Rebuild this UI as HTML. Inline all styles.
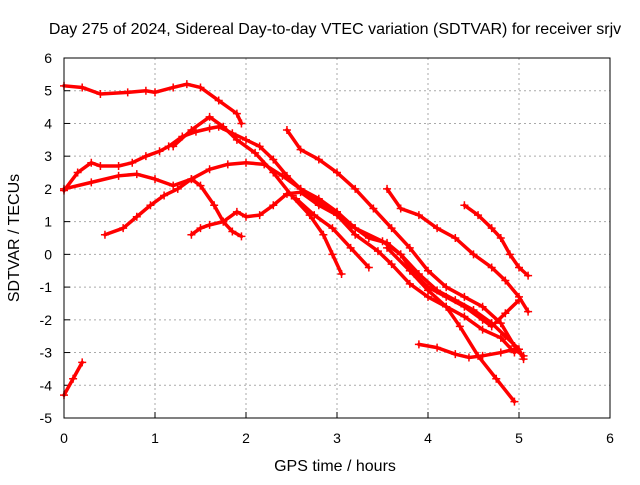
<!DOCTYPE html>
<html><head><meta charset="utf-8"><style>
body{margin:0;background:#fff}
svg text{font-family:"Liberation Sans",sans-serif;font-size:14px;fill:#000}
svg text.big{font-size:16px}
</style></head><body>
<svg id="chart" width="640" height="480">
<rect width="640" height="480" fill="#fff"/>
<text class="big" x="335" y="34" text-anchor="middle">Day 275 of 2024, Sidereal Day-to-day VTEC variation (SDTVAR) for receiver srjv</text>
<text class="big" x="335" y="471" text-anchor="middle">GPS time / hours</text>
<text class="big" transform="translate(19,238) rotate(-90)" text-anchor="middle">SDTVAR / TECUs</text>
<g id="grid"></g><g id="series"></g>
<rect x="64" y="58" width="546" height="360" fill="none" stroke="#000"/>
</svg>
<script>
const xTicks=[0,1,2,3,4,5,6];
const yTicks=[-5,-4,-3,-2,-1,0,1,2,3,4,5,6];
const s1=[[0,5.15],[0.2,5.1],[0.4,4.9],[0.7,4.95],[0.9,5.0],[1.0,4.95],[1.2,5.1],[1.35,5.2],[1.5,5.1],[1.7,4.7],[1.9,4.3],[1.95,4.0]];
const s2=[[0,1.95],[0.15,2.5],[0.3,2.8],[0.4,2.7],[0.6,2.7],[0.75,2.8],[0.9,3.0],[1.05,3.15],[1.15,3.3],[1.3,3.6],[1.45,3.75],[1.6,3.85],[1.7,3.9],[1.85,3.7],[2.0,3.5],[2.15,3.3],[2.3,2.9],[2.45,2.4],[2.6,2.0],[2.8,1.7],[3.0,1.3],[3.15,0.9],[3.35,0.5],[3.55,0.35],[3.7,0],[3.85,-0.6],[4.0,-1.0],[4.2,-1.3],[4.4,-1.6],[4.6,-2.0],[4.7,-2.2],[4.85,-1.8],[5.0,-1.4]];
const s3=[[0,2.0],[0.3,2.2],[0.6,2.4],[0.8,2.45],[1.0,2.3],[1.2,2.1],[1.4,2.3],[1.5,2.1],[1.65,1.5],[1.75,1.0],[1.85,0.7],[1.95,0.55]];
const s4=[[0.45,0.6],[0.65,0.8],[0.8,1.15],[0.95,1.5],[1.1,1.8],[1.25,2.0],[1.4,2.3],[1.6,2.6],[1.8,2.75],[2.0,2.8],[2.2,2.75],[2.4,2.4],[2.6,2.0],[2.8,1.6],[3.0,1.3],[3.2,0.8],[3.5,0.4],[3.7,0.0],[3.9,-0.6],[4.1,-1.1],[4.3,-1.4],[4.5,-1.7],[4.7,-2.1],[4.85,-2.5],[5.0,-2.9],[5.05,-3.2]];
const s5=[[1.4,0.6],[1.5,0.8],[1.6,0.9],[1.75,1.0],[1.9,1.3],[2.0,1.15],[2.15,1.2],[2.3,1.5],[2.45,1.85],[2.6,1.9],[2.8,1.5],[3.0,1.2],[3.2,0.6],[3.45,0.1],[3.6,-0.3],[3.8,-0.9],[4.0,-1.3],[4.2,-1.6],[4.4,-1.9],[4.6,-2.3],[4.8,-2.55],[4.95,-3.0]];
const s6=[[3.9,-2.75],[4.1,-2.85],[4.3,-3.05],[4.45,-3.15],[4.6,-3.1],[4.8,-3.0],[4.95,-2.9],[5.05,-3.1]];
const s7=[[3.55,0.2],[3.8,-0.5],[4.0,-1.1],[4.2,-1.6],[4.35,-2.2],[4.55,-3.1],[4.75,-3.8],[4.95,-4.5]];
const s8=[[1.2,3.3],[1.4,3.8],[1.6,4.2],[1.75,3.9],[1.9,3.5],[2.1,3.1],[2.3,2.5],[2.5,1.8],[2.7,1.2],[2.85,0.6],[2.95,0.0],[3.05,-0.6]];
const s9=[[2.55,1.7],[2.75,1.2],[2.95,0.8],[3.15,0.2],[3.35,-0.4]];
const s10=[[2.45,3.8],[2.6,3.2],[2.8,2.9],[3.0,2.5],[3.2,2.0],[3.4,1.4],[3.6,0.8],[3.8,0.2],[4.0,-0.5],[4.2,-1.0],[4.4,-1.3],[4.6,-1.6],[4.8,-2.1],[4.95,-2.8]];
const s12=[[3.55,2.0],[3.7,1.4],[3.9,1.2],[4.1,0.8],[4.3,0.5],[4.5,0.0],[4.7,-0.4],[4.85,-0.8],[5.0,-1.3],[5.1,-1.75]];
const s13=[[4.4,1.5],[4.55,1.2],[4.7,0.8],[4.8,0.5],[4.9,0.0],[5.0,-0.4],[5.1,-0.65]];
const s14=[[0,-4.3],[0.1,-3.8],[0.2,-3.3]];
const allSeries=[s1,s2,s3,s4,s5,s6,s7,s8,s9,s10,s12,s13,s14];
const NS="http://www.w3.org/2000/svg";
function X(v){return 64+v*91;}
function Y(v){return 58+(6-v)*32.727;}
const grid=document.getElementById('grid'), ser=document.getElementById('series');
function mk(t,a,p){const e=document.createElementNS(NS,t);for(const k in a)e.setAttribute(k,a[k]);(p||grid).appendChild(e);return e;}
xTicks.forEach(v=>{
  if(v>0&&v<6){const g=mk('line',{x1:X(v),x2:X(v),y1:58,y2:418,stroke:'#aaa','stroke-dasharray':'2,3'});
  
  }
  const tk=mk('line',{x1:X(v),x2:X(v),y1:418,y2:412,stroke:'#000'});
  
  
  const t=mk('text',{x:X(v),y:443,'text-anchor':'middle'});t.textContent=v;
  
  
});
yTicks.forEach(v=>{
  if(v>-5&&v<6){const g=mk('line',{x1:64,x2:610,y1:Y(v),y2:Y(v),stroke:'#aaa','stroke-dasharray':'2,3'});
  
  }
  const tk=mk('line',{x1:64,x2:70,y1:Y(v),y2:Y(v),stroke:'#000'});
  
  
  const t=mk('text',{x:52,y:Y(v)+5,'text-anchor':'end'});t.textContent=v;
  
  
});
allSeries.forEach((s,i)=>{
  const pl=mk('polyline',{points:s.map(p=>X(p[0])+','+Y(p[1])).join(' '),fill:'none',stroke:'#f00','stroke-width':3.5,'stroke-linejoin':'round','stroke-linecap':'round'},ser);
  
  
  s.forEach(p=>{
    const m=mk('path',{d:`M${X(p[0])-4},${Y(p[1])}h8M${X(p[0])},${Y(p[1])-4}v8`,stroke:'#f00','stroke-width':1.5},ser);
    
    
  });
});
</script>
</body></html>
